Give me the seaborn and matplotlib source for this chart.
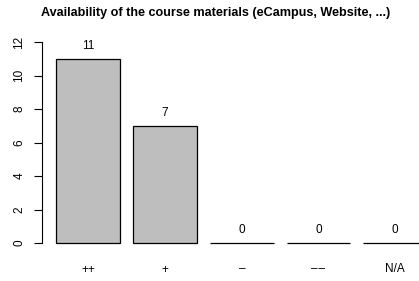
import matplotlib
matplotlib.use("Agg")
import matplotlib.pyplot as plt
import seaborn as sns

# data
categories = ["++", "+", "\u2013", "\u2013\u200a\u2013", "N/A"]
counts = [11, 7, 0, 0, 0]
y_ticks = [0, 2, 4, 6, 8, 10, 12]
title = "Availability of the course materials (eCampus, Website, ...)"

sns.set_style("white")
plt.rcParams["font.family"] = ["Liberation Sans", "DejaVu Sans"]
plt.rcParams["text.color"] = "black"
plt.rcParams["xtick.color"] = "black"
plt.rcParams["ytick.color"] = "black"

fig = plt.figure(figsize=(4.19, 2.81), dpi=100)
ax = fig.add_axes([42 / 419, 30 / 281, 377 / 419, 216.8 / 281])

sns.barplot(x=categories, y=counts, order=categories, color="#bebebe",
            saturation=1, edgecolor="black", linewidth=0.9, width=0.833, ax=ax)

# value labels above bars
for i, v in enumerate(counts):
    ax.text(i, v + 0.75, str(v), ha="center", va="center", fontsize=8.5)

ax.set_xlim(-0.604, 4.31)
ax.set_ylim(-0.48, 12.48)
ax.set_yticks(y_ticks)
ax.set_yticklabels([str(t) for t in y_ticks], rotation=90, va="center")
ax.tick_params(axis="y", length=6, width=0.8, pad=6, labelsize=8.5, left=True)
ax.tick_params(axis="x", length=0, pad=9, labelsize=8.5)
ax.set_xlabel("")
ax.set_ylabel("")

for s in ["top", "right", "bottom"]:
    ax.spines[s].set_visible(False)
ax.spines["left"].set_bounds(0, 12)
ax.spines["left"].set_linewidth(0.8)
ax.spines["left"].set_color("black")

fig.text(216 / 419, 1 - 13 / 281, title, ha="center", va="center",
         fontsize=9.1, fontweight="bold")

fig.savefig("out.png", dpi=100)
